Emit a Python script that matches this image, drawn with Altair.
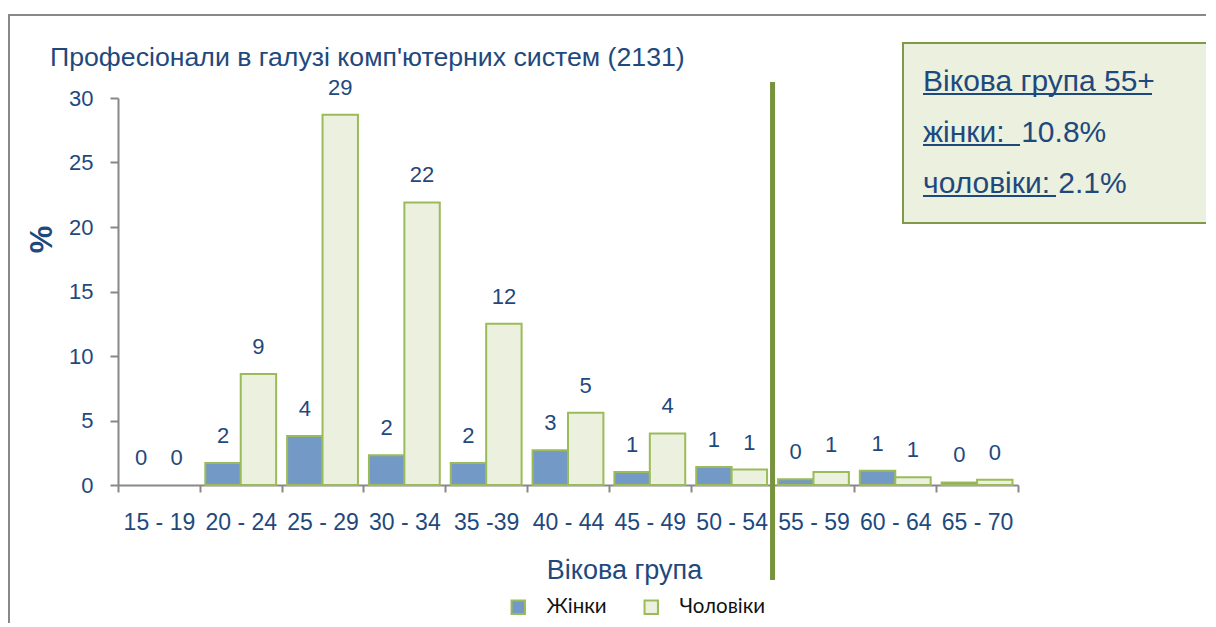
import altair as alt
import pandas as pd

cats = ["15 - 19", "20 - 24", "25 - 29", "30 - 34", "35 -39", "40 - 44",
        "45 - 49", "50 - 54", "55 - 59", "60 - 64", "65 - 70"]
women = [0, 1.7, 3.8, 2.3, 1.7, 2.7, 1.0, 1.4, 0.45, 1.1, 0.2]
men = [0, 8.6, 28.7, 21.9, 12.5, 5.6, 4.0, 1.2, 1.0, 0.6, 0.4]
women_labels = ["0", "2", "4", "2", "2", "3", "1", "1", "0", "1", "0"]
men_labels = ["0", "9", "29", "22", "12", "5", "4", "1", "1", "1", "0"]
series = ["Жінки", "Чоловіки"]
y_ticks = [0, 5, 10, 15, 20, 25, 30]
divider_cat = ["55 - 59"]

title_text = "Професіонали в галузі комп'ютерних систем (2131)"
box_lines = ["Вікова група 55+", "жінки:\u00a0 10.8%", "чоловіки: 2.1%"]

NAVY = "#1F497D"
FONT = "Liberation Sans"

rows = []
for c, w, m, wl, ml in zip(cats, women, men, women_labels, men_labels):
    rows.append({"cat": c, "sex": series[0], "value": w, "label": wl})
    rows.append({"cat": c, "sex": series[1], "value": m, "label": ml})
df = pd.DataFrame(rows)
div_df = pd.DataFrame({"cat": divider_cat})

W, H = 900, 387

x_enc = alt.X("cat:N", sort=cats,
              scale=alt.Scale(paddingInner=0, paddingOuter=0),
              axis=alt.Axis(title="Вікова група", labelAngle=0, tickBand="extent",
                            labelFontSize=23, labelColor=NAVY, labelFont=FONT,
                            labelPadding=19, tickSize=7, tickColor="#888888",
                            tickWidth=2, domainColor="#888888", domainWidth=2,
                            titleFontSize=27, titleColor=NAVY, titleFont=FONT,
                            titleFontWeight="normal", titleX=506, titleY=93,
                            titleBaseline="alphabetic", titleAlign="center"))
xoff = alt.XOffset("sex:N", sort=series,
                   scale=alt.Scale(paddingInner=0, paddingOuter=0.155))
y_enc = alt.Y("value:Q", scale=alt.Scale(domain=[0, 30], nice=False),
              axis=alt.Axis(title="%", values=y_ticks, grid=False,
                            labelFontSize=22, labelColor=NAVY, labelFont=FONT,
                            labelPadding=17, tickSize=8, tickColor="#888888",
                            tickWidth=2, domainColor="#888888", domainWidth=2,
                            titleFontSize=31, titleColor=NAVY, titleFont=FONT,
                            titleFontWeight="bold", titleX=-76, titleY=141,
                            titleAngle=-90, titleBaseline="middle",
                            titleAlign="center"))

base = alt.Chart(df)

bars = base.mark_bar(stroke="#9BBB59").encode(
    x=x_enc, xOffset=xoff, y=y_enc,
    color=alt.Color("sex:N", sort=series,
                    scale=alt.Scale(domain=series, range=["#7399C6", "#EBF1DE"]),
                    legend=alt.Legend(title=None, orient="none", legendX=390,
                                      legendY=499, direction="horizontal",
                                      symbolType="square", symbolSize=180,
                                      symbolStrokeColor="#9BBB59",
                                      symbolStrokeWidth=2, labelOffset=18,
                                      columnPadding=33, labelFontSize=20.5,
                                      labelFont="Lato", labelColor="#111111")),
    strokeWidth=alt.condition(alt.datum.value > 0, alt.value(2), alt.value(0)),
)

labels = base.mark_text(dy=-27, baseline="middle", fontSize=22, font=FONT,
                        color=NAVY).encode(
    x=alt.X("cat:N", sort=cats), xOffset=alt.XOffset("sex:N", sort=series),
    y="value:Q", text="label:N")

divider = alt.Chart(div_df).mark_rule(color="#77933C", strokeWidth=5).encode(
    x=alt.X("cat:N", sort=cats, bandPosition=0),
    y=alt.value(-16), y2=alt.value(H + 95))

frame = alt.Chart(div_df).mark_rect(fill=None, stroke="#888888", strokeWidth=2).encode(
    x=alt.value(-109), x2=alt.value(1300), y=alt.value(-83), y2=alt.value(800))

title = alt.Chart(div_df).mark_text(text=title_text, align="left",
                                    baseline="alphabetic", fontSize=26.7,
                                    font=FONT, color=NAVY).encode(
    x=alt.value(-68), y=alt.value(-32))

box = alt.Chart(div_df).mark_rect(fill="#EBF1DE", stroke="#7F9A48",
                                  strokeWidth=2).encode(
    x=alt.value(785), x2=alt.value(1300), y=alt.value(-55), y2=alt.value(125))

box_layers = []
baselines = [-7, 44, 95]
underline_ends = [1034, 902, 938]
for line, yb, ue in zip(box_lines, baselines, underline_ends):
    box_layers.append(alt.Chart(div_df).mark_text(
        text=line, align="left", baseline="alphabetic", fontSize=30,
        font=FONT, color=NAVY).encode(x=alt.value(805), y=alt.value(yb)))
    box_layers.append(alt.Chart(div_df).mark_rule(color=NAVY, strokeWidth=2).encode(
        x=alt.value(805), x2=alt.value(ue), y=alt.value(yb + 3)))

chart = alt.layer(frame, title, bars, labels, divider, box, *box_layers).properties(
    width=W, height=H,
    autosize=alt.AutoSizeParams(type="none"),
    padding={"left": 110, "top": 90, "right": 188, "bottom": 138},
).configure_view(stroke=None)

chart.save("out.html", embed_options={"renderer": "svg", "actions": False})
